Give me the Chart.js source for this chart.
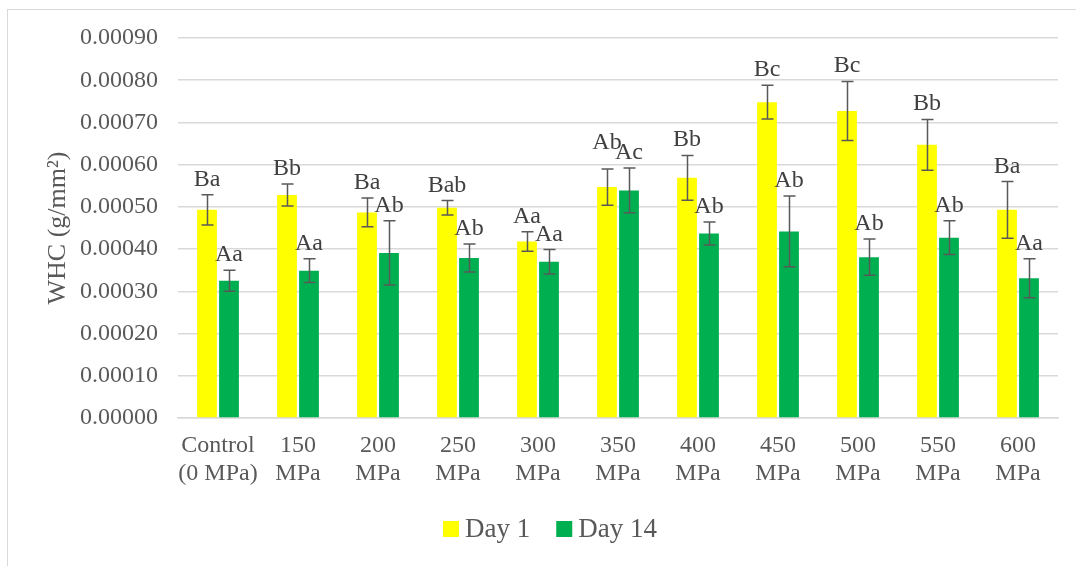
<!DOCTYPE html>
<html>
<head>
<meta charset="utf-8">
<script src="https://cdn.jsdelivr.net/npm/chart.js@4"></script>
<style>
  html, body { margin: 0; padding: 0; background: #fff; }
  #wrap { position: relative; width: 1076px; height: 566px; overflow: hidden; }
  #frame { position: absolute; left: 7px; top: 9px; width: 1100px; height: 600px; border: 1px solid #d9d9d9; box-sizing: border-box; }
  canvas { position: absolute; left: 0; top: 0; }
</style>
</head>
<body>
<div id="wrap">
  <div id="frame"></div>
  <canvas id="whcChart" width="1076" height="566"></canvas>
</div>
<script>
// WHC por tratamiento de presión, Day 1 vs Day 14
const categories = [
  ['Control', '(0 MPa)'], ['150', 'MPa'], ['200', 'MPa'], ['250', 'MPa'], ['300', 'MPa'],
  ['350', 'MPa'], ['400', 'MPa'], ['450', 'MPa'], ['500', 'MPa'], ['550', 'MPa'], ['600', 'MPa']
];
const day1     = [0.000493, 0.000528, 0.000487, 0.000498, 0.000418, 0.000547, 0.000569, 0.000748, 0.000727, 0.000647, 0.000493];
const day1Err  = [0.000036, 0.000026, 0.000034, 0.000017, 0.000023, 0.000043, 0.000053, 0.000040, 0.000070, 0.000060, 0.000067];
const day14    = [0.000325, 0.000349, 0.000391, 0.000379, 0.000370, 0.000539, 0.000437, 0.000442, 0.000381, 0.000427, 0.000331];
const day14Err = [0.000025, 0.000028, 0.000076, 0.000033, 0.000029, 0.000053, 0.000027, 0.000084, 0.000043, 0.000040, 0.000046];
const day1Letters  = ['Ba', 'Bb', 'Ba', 'Bab', 'Aa', 'Ab', 'Bb', 'Bc', 'Bc', 'Bb', 'Ba'];
const day14Letters = ['Aa', 'Aa', 'Ab', 'Ab', 'Aa', 'Ac', 'Ab', 'Ab', 'Ab', 'Ab', 'Aa'];

const FONT = "'Liberation Serif', 'Times New Roman', serif";
const errors  = [day1Err, day14Err];
const letters = [day1Letters, day14Letters];

// barras de error + letras encima
const errorBars = {
  id: 'errorBars',
  afterDatasetsDraw(chart) {
    const { ctx, scales: { y } } = chart;
    ctx.save();
    ctx.font = '24px ' + FONT;
    const labelPos = [[], []];
    chart.data.datasets.forEach((ds, i) => {
      chart.getDatasetMeta(i).data.forEach((bar, j) => {
        const v = ds.data[j], e = errors[i][j];
        const yt = y.getPixelForValue(v + e);
        const yb = y.getPixelForValue(v - e);
        const x = Math.round(bar.x) + 0.5;
        ctx.strokeStyle = '#595959';
        ctx.lineWidth = 1.5;
        ctx.beginPath();
        ctx.moveTo(x, yt); ctx.lineTo(x, yb);
        ctx.moveTo(x - 6, yt); ctx.lineTo(x + 6, yt);
        ctx.moveTo(x - 6, yb); ctx.lineTo(x + 6, yb);
        ctx.stroke();
        labelPos[i][j] = { x: bar.x, y: yt - 9, w: ctx.measureText(letters[i][j]).width };
      });
    });
    // si las letras de un grupo chocan, subir la de Day 1
    labelPos[0].forEach((a, j) => {
      const b = labelPos[1][j];
      const overlapX = (a.x + a.w / 2) > (b.x - b.w / 2);
      if (overlapX && a.y > b.y - 10) a.y = b.y - 10;
    });
    ctx.fillStyle = '#404040';
    ctx.textAlign = 'center';
    ctx.textBaseline = 'alphabetic';
    labelPos.forEach((arr, i) => arr.forEach((p, j) => ctx.fillText(letters[i][j], p.x, p.y)));
    ctx.restore();
  }
};

// leyenda tipo Excel (cuadro pegado al texto)
const excelLegend = {
  id: 'excelLegend',
  afterDraw(chart) {
    const { ctx } = chart;
    const box = 16, gapText = 6, gapItem = 26;
    ctx.save();
    ctx.font = '27px ' + FONT;
    const items = chart.data.datasets.map(ds => ({ text: ds.label, color: ds.backgroundColor, w: ctx.measureText(ds.label).width }));
    const total = items.reduce((s, it) => s + box + gapText + it.w, 0) + gapItem * (items.length - 1);
    let x = chart.width / 2 + 12 - total / 2;
    const cy = 529;
    items.forEach(it => {
      ctx.fillStyle = it.color;
      ctx.fillRect(x, cy - box / 2, box, box);
      x += box + gapText;
      ctx.fillStyle = '#595959';
      ctx.textAlign = 'left';
      ctx.textBaseline = 'middle';
      ctx.fillText(it.text, x, cy + 1);
      x += it.w + gapItem;
    });
    ctx.restore();
  }
};

new Chart(document.getElementById('whcChart').getContext('2d'), {
  type: 'bar',
  data: {
    labels: categories,
    datasets: [
      { label: 'Day 1',  data: day1,  backgroundColor: '#FFFF00', categoryPercentage: 0.55, barPercentage: 0.9 },
      { label: 'Day 14', data: day14, backgroundColor: '#00B050', categoryPercentage: 0.55, barPercentage: 0.9 }
    ]
  },
  options: {
    responsive: false,
    animation: false,
    layout: { padding: { top: 38, right: 18, bottom: 58, left: 43 } },
    plugins: {
      legend: { display: false },
      tooltip: { enabled: false }
    },
    scales: {
      y: {
        min: 0, max: 0.0009,
        ticks: {
          stepSize: 0.0001,
          font: { family: FONT, size: 24 }, color: '#595959', padding: 20,
          callback: (v) => v.toFixed(5)
        },
        grid: { color: '#d9d9d9', lineWidth: 1.5, drawTicks: false },
        border: { display: false },
        title: { display: true, text: 'WHC (g/mm²)', font: { family: FONT, size: 26 }, color: '#595959', padding: 0 },
        afterFit: (s) => { s.width = 135; }
      },
      x: {
        ticks: { font: { family: FONT, size: 24 }, color: '#595959', maxRotation: 0, autoSkip: false, padding: 13 },
        grid: { display: false, drawTicks: false },
        border: { color: '#d9d9d9', width: 1.5 },
        afterFit: (s) => { s.height = 90; }
      }
    }
  },
  plugins: [errorBars, excelLegend]
});
</script>
</body>
</html>
